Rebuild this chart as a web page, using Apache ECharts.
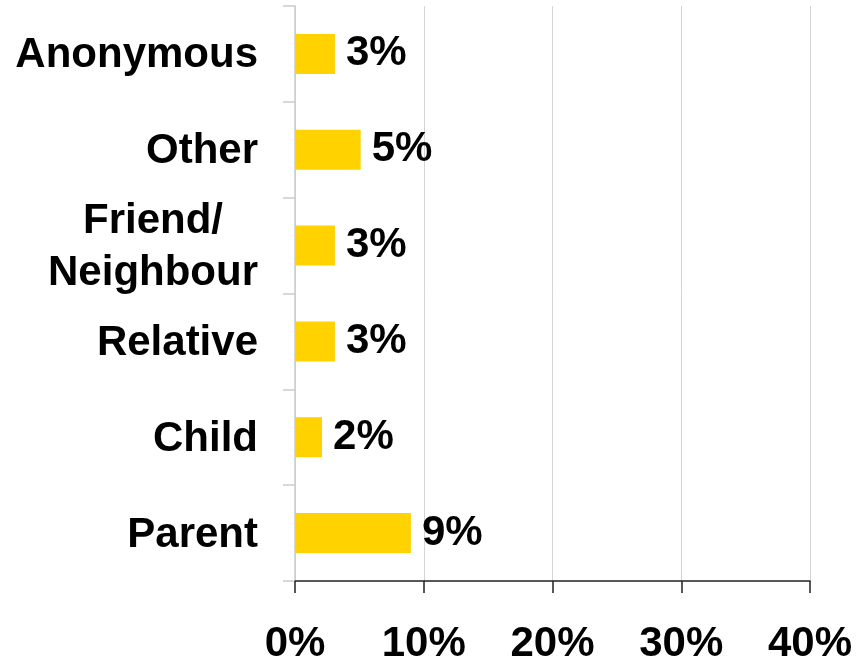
<!DOCTYPE html>
<html>
<head>
<meta charset="utf-8">
<script src="https://cdn.jsdelivr.net/npm/echarts@6/dist/echarts.min.js"></script>
<style>
  html, body { margin: 0; padding: 0; background: #ffffff; }
  #main { width: 867px; height: 661px; }
</style>
</head>
<body>
<div id="main"></div>
<script>
// categories top to bottom
var categories = ['Anonymous', 'Other', 'Friend/\nNeighbour', 'Relative', 'Child', 'Parent'];
// percent values
var values = [3.1, 5.1, 3.1, 3.1, 2.1, 9.0];
var xTicks = [0, 10, 20, 30, 40];

var myChart = echarts.init(document.getElementById('main'));

var option = {
    backgroundColor: '#ffffff',
    animation: false,
    textStyle: { fontFamily: 'Liberation Sans, Arial, sans-serif' },
    grid: { left: 295, right: 57, top: 6, bottom: 80, containLabel: false, outerBoundsMode: 'none' },
    xAxis: {
        type: 'value',
        min: xTicks[0],
        max: xTicks[xTicks.length - 1],
        interval: 10,
        axisLine: { show: true, lineStyle: { color: '#222222', width: 1.5 } },
        axisTick: { show: true, length: 12, lineStyle: { color: '#222222', width: 1.5 } },
        splitLine: { show: true, lineStyle: { color: '#d4d4d4', width: 1 } },
        axisLabel: {
            margin: 42,
            fontSize: 42,
            fontWeight: 'bold',
            color: '#000000',
            formatter: function (v) { return v + '%'; }
        }
    },
    yAxis: {
        type: 'category',
        inverse: true,
        data: categories,
        axisLine: { show: true, lineStyle: { color: '#cccccc', width: 1.5 } },
        axisTick: { show: true, length: 12, lineStyle: { color: '#cccccc', width: 1.5 } },
        axisLabel: {
            margin: 37,
            fontSize: 42,
            fontWeight: 'bold',
            color: '#000000',
            padding: [4, 0, 0, 0],
            formatter: function (v) {
                return v.split('\n').map(function (s) { return '{c|' + s + '}'; }).join('\n');
            },
            rich: {
                c: { fontSize: 42, fontWeight: 'bold', color: '#000000', align: 'center', lineHeight: 52 }
            }
        }
    },
    series: [
        {
            type: 'bar',
            data: values,
            barWidth: 40,
            itemStyle: { color: '#FFD200' },
            label: {
                show: true,
                position: 'right',
                distance: 11,
                fontSize: 42,
                fontWeight: 'bold',
                color: '#000000',
                padding: [3, 0, 0, 0],
                formatter: function (p) { return Math.round(p.value) + '%'; }
            }
        }
    ]
};

myChart.setOption(option);
</script>
</body>
</html>
